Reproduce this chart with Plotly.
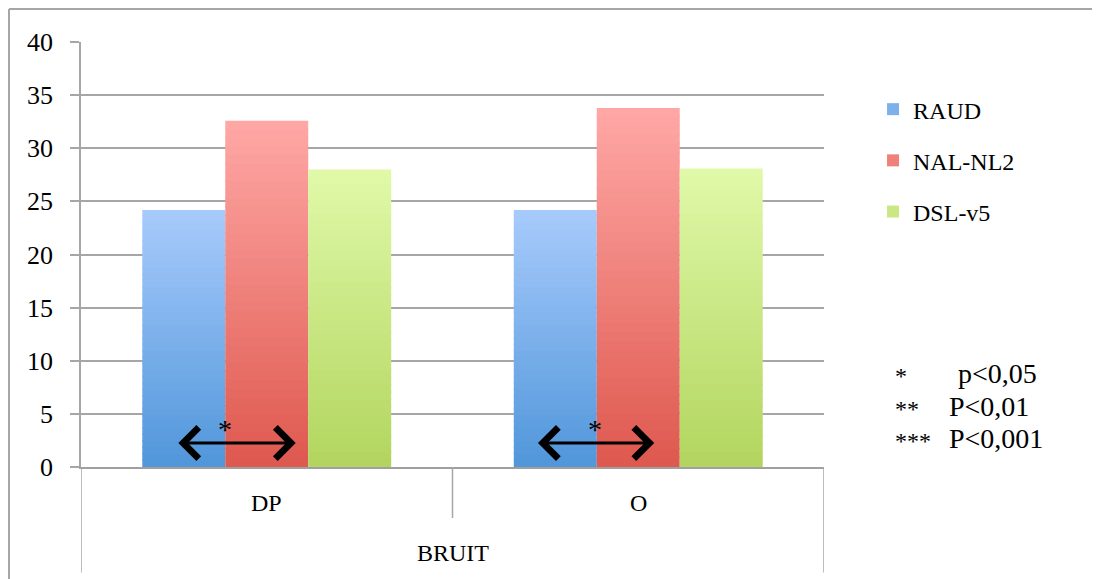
import plotly.graph_objects as go

categories = ["DP", "O"]
group_label = "BRUIT"
series_names = ["RAUD", "NAL-NL2", "DSL-v5"]
raud = [24.2, 24.2]
nal = [32.6, 33.8]
dsl = [28.0, 28.1]
y_ticks = [0, 5, 10, 15, 20, 25, 30, 35, 40]
p_stars = ["*", "**", "***"]
p_texts = ["p<0,05", "P<0,01", "P<0,001"]

series_values = [raud, nal, dsl]
top_colors = [(168, 203, 252), (255, 168, 166), (224, 249, 169)]
bottom_colors = [(80, 150, 218), (222, 88, 78), (178, 213, 94)]

FONT = "Liberation Serif"
GRID = "#A6A6A6"
N = 40  # gradient slices per bar (rendering only)
OVERLAP = 0.12  # hides anti-aliasing seams between slices

fig = go.Figure()
for s, (name, vals) in enumerate(zip(series_names, series_values)):
    tc, bc = top_colors[s], bottom_colors[s]
    for k in range(N):
        t = (k + 0.5) / N  # 0 bottom -> 1 top
        col = tuple(round(bc[i] + (tc[i] - bc[i]) * t) for i in range(3))
        extra = OVERLAP if k < N - 1 else 0
        fig.add_trace(go.Bar(
            x=categories,
            y=[v / N + extra for v in vals],
            base=[v * k / N for v in vals],
            offsetgroup=str(s),
            marker=dict(color="rgb(%d,%d,%d)" % col, line=dict(width=0)),
            name=name,
            legendgroup=name,
            showlegend=(k == N // 2),
            hoverinfo="skip",
        ))

# significance arrows (between RAUD and NAL-NL2 in each category)
arrow_spans = [(-0.242, 0.078), (0.726, 1.043)]
star_x = [-0.113, 0.884]
for (x0, x1), sx in zip(arrow_spans, star_x):
    fig.add_annotation(x=x1, y=2.26, ax=x0, ay=2.26, xref="x", yref="y",
                       axref="x", ayref="y", text="", showarrow=True,
                       arrowhead=4, startarrowhead=4, arrowside="end+start",
                       arrowwidth=3, arrowsize=2, startarrowsize=2,
                       arrowcolor="black", standoff=0, startstandoff=0)
    fig.add_annotation(x=sx, y=3.5, xref="x", yref="y", text="*",
                       showarrow=False, font=dict(family=FONT, size=28, color="black"))

# category labels
for c in categories:
    fig.add_annotation(x=c, y=-0.12, xref="x", yref="paper", text=c,
                       showarrow=False, font=dict(family=FONT, size=24, color="black"))
fig.add_annotation(x=0.5, y=-0.238, xref="x", yref="paper", text=group_label,
                   showarrow=False, font=dict(family=FONT, size=24, color="black"))

# p-value key
key_y = [0.179, 0.102, 0.026]
key_x = [1.178, 1.166, 1.166]
for st, tx, yy, xx in zip(p_stars, p_texts, key_y, key_x):
    fig.add_annotation(x=1.093, y=yy, xref="paper", yref="paper", text=st,
                       xanchor="left", showarrow=False,
                       font=dict(family=FONT, size=24, color="black"))
    fig.add_annotation(x=xx, y=yy, xref="paper", yref="paper", text=tx,
                       xanchor="left", showarrow=False,
                       font=dict(family=FONT, size=28, color="black"))

# category dividers
for xd, yb in [(-0.5, -0.248), (0.5, -0.12), (1.5, -0.248)]:
    fig.add_shape(type="line", xref="x", yref="paper", x0=xd, x1=xd, y0=0, y1=yb,
                  line=dict(color=GRID, width=1.5))

# outer frame (top and left edges)
fig.add_shape(type="line", xref="paper", yref="paper", x0=-0.0969, x1=1.40,
              y0=1.0776, y1=1.0776, line=dict(color=GRID, width=2))
fig.add_shape(type="line", xref="paper", yref="paper", x0=-0.0969, x1=-0.0969,
              y0=1.0776, y1=-0.30, line=dict(color=GRID, width=2))

fig.update_layout(
    width=1092, height=571,
    margin=dict(l=73, r=276, t=34, b=112),
    paper_bgcolor="white", plot_bgcolor="white",
    barmode="group", bargap=0.33, bargroupgap=0,
    font=dict(family=FONT, size=24, color="black"),
    legend=dict(x=1.066, y=0.894, xanchor="left", yanchor="top",
                traceorder="grouped", tracegroupgap=17,
                font=dict(family=FONT, size=24, color="black"),
                bgcolor="rgba(0,0,0,0)"),
    xaxis=dict(type="category", range=[-0.5, 1.5], showticklabels=False,
               ticks="", showgrid=False, showline=True, linecolor="#A0A0A0",
               linewidth=2, zeroline=False),
    yaxis=dict(range=[0, 40], tickvals=y_ticks, showgrid=True, gridcolor=GRID,
               gridwidth=1.5, showline=True, linecolor=GRID, linewidth=1.5,
               ticks="outside", ticklen=9, tickcolor=GRID, tickwidth=1.5,
               ticklabelstandoff=12, zeroline=False,
               tickfont=dict(family=FONT, size=26, color="black")),
)

fig.write_html("out.html")
